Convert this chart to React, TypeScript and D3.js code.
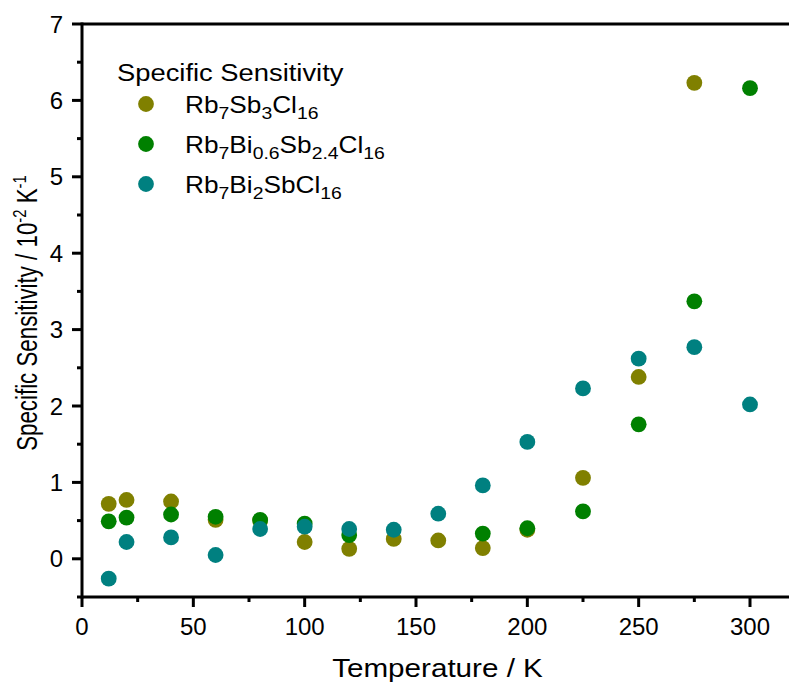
import React from "react";
import * as d3 from "d3";

const sb3Temps = [12, 20, 40, 60, 80, 100, 120, 140, 160, 180, 200, 225, 250, 275];
const sb3Values = [0.72, 0.77, 0.75, 0.51, 0.5, 0.22, 0.13, 0.26, 0.24, 0.14, 0.38, 1.06, 2.38, 6.23];

const bi06Temps = [12, 20, 40, 60, 80, 100, 120, 180, 200, 225, 250, 275, 300];
const bi06Values = [0.49, 0.54, 0.58, 0.55, 0.51, 0.46, 0.31, 0.33, 0.4, 0.62, 1.76, 3.37, 6.16];

const bi2Temps = [12, 20, 40, 60, 80, 100, 120, 140, 160, 180, 200, 225, 250, 275, 300];
const bi2Values = [-0.26, 0.22, 0.28, 0.05, 0.39, 0.42, 0.39, 0.38, 0.59, 0.96, 1.53, 2.23, 2.62, 2.77, 2.02];

const xTicks = [0, 50, 100, 150, 200, 250, 300];
const xMinorTicks = [25, 75, 125, 175, 225, 275];
const yTicks = [0, 1, 2, 3, 4, 5, 6, 7];
const yMinorTicks = [-0.5, 0.5, 1.5, 2.5, 3.5, 4.5, 5.5, 6.5];

type Series = {
  key: string;
  color: string;
  xs: number[];
  ys: number[];
  label: { base: string; sub?: string }[];
};

const series: Series[] = [
  {
    key: "sb3",
    color: "#808000",
    xs: sb3Temps,
    ys: sb3Values,
    label: [{ base: "Rb", sub: "7" }, { base: "Sb", sub: "3" }, { base: "Cl", sub: "16" }],
  },
  {
    key: "bi06",
    color: "#008000",
    xs: bi06Temps,
    ys: bi06Values,
    label: [{ base: "Rb", sub: "7" }, { base: "Bi", sub: "0.6" }, { base: "Sb", sub: "2.4" }, { base: "Cl", sub: "16" }],
  },
  {
    key: "bi2",
    color: "#008080",
    xs: bi2Temps,
    ys: bi2Values,
    label: [{ base: "Rb", sub: "7" }, { base: "Bi", sub: "2" }, { base: "SbCl", sub: "16" }],
  },
];

const W = 789;
const H = 686;
const left = 82;
const top = 24;
const bottom = 597;
const font = "'Liberation Sans', Arial, sans-serif";
// text is set slightly wide
const sx = 1.14;

export default function App() {
  const x = d3.scaleLinear().domain([0, 300]).range([left, 750]);
  const y = d3.scaleLinear().domain([-0.5, 7]).range([bottom, top]);
  const xEnd = W + 2;

  return (
    <svg
      width={W}
      height={H}
      style={{ position: "absolute", left: 0, top: 0, background: "#fff" }}
      fontFamily={font}
    >
      {/* data points */}
      {series.map((s) => (
        <g key={s.key}>
          {s.xs.map((t, i) => (
            <circle key={i} cx={x(t)} cy={y(s.ys[i])} r={7.9} fill={s.color} />
          ))}
        </g>
      ))}

      {/* axes frame */}
      <line x1={left} x2={xEnd} y1={top} y2={top} stroke="#000" strokeWidth={3} />
      <line x1={left} x2={xEnd} y1={bottom} y2={bottom} stroke="#000" strokeWidth={3} />
      <line x1={left} x2={left} y1={top - 1.5} y2={bottom + 1.5} stroke="#000" strokeWidth={3} />

      {/* x ticks */}
      {xTicks.map((t) => (
        <g key={"xt" + t}>
          <line x1={x(t)} x2={x(t)} y1={bottom} y2={bottom + 10} stroke="#000" strokeWidth={3} />
          <text x={x(t)} y={bottom + 38} fontSize={24} textAnchor="middle" fill="#000">
            {t}
          </text>
        </g>
      ))}
      {xMinorTicks.map((t) => (
        <line key={"xm" + t} x1={x(t)} x2={x(t)} y1={bottom} y2={bottom + 5} stroke="#000" strokeWidth={3} />
      ))}

      {/* y ticks */}
      {yTicks.map((t) => (
        <g key={"yt" + t}>
          <line x1={left - 10} x2={left} y1={y(t)} y2={y(t)} stroke="#000" strokeWidth={3} />
          <text x={left - 19} y={y(t) + 8.5} fontSize={24} textAnchor="end" fill="#000">
            {t}
          </text>
        </g>
      ))}
      {yMinorTicks.map((t) => (
        <line key={"ym" + t} x1={left - 5} x2={left} y1={y(t)} y2={y(t)} stroke="#000" strokeWidth={3} />
      ))}

      {/* axis titles */}
      <g transform={`translate(437.5, 677) scale(${sx}, 1)`}>
        <text x={0} y={0} fontSize={26} textAnchor="middle" fill="#000">
          Temperature / K
        </text>
      </g>
      <g transform={`translate(37, 313) rotate(-90) scale(0.93, 1.2)`}>
        <text x={0} y={0} fontSize={24} textAnchor="middle" fill="#000">
          Specific Sensitivity / 10
          <tspan dy={-9} fontSize={16}>-2</tspan>
          <tspan dy={9}> K</tspan>
          <tspan dy={-9} fontSize={16}>-1</tspan>
        </text>
      </g>

      {/* legend */}
      <g transform={`translate(117, 81) scale(${sx}, 1)`}>
        <text x={0} y={0} fontSize={24} fill="#000">
          Specific Sensitivity
        </text>
      </g>
      {series.map((s, i) => {
        const cy = 104 + i * 40;
        return (
          <g key={"lg" + s.key}>
            <circle cx={146} cy={cy} r={7.9} fill={s.color} />
            <g transform={`translate(185, ${cy + 9}) scale(${sx}, 1)`}>
              <text x={0} y={0} fontSize={23} fill="#000">
                {s.label.map((p, j) => (
                  <React.Fragment key={j}>
                    <tspan dy={j === 0 ? 0 : -6}>{p.base}</tspan>
                    {p.sub && (
                      <tspan dy={6} fontSize={17}>
                        {p.sub}
                      </tspan>
                    )}
                  </React.Fragment>
                ))}
              </text>
            </g>
          </g>
        );
      })}
    </svg>
  );
}
